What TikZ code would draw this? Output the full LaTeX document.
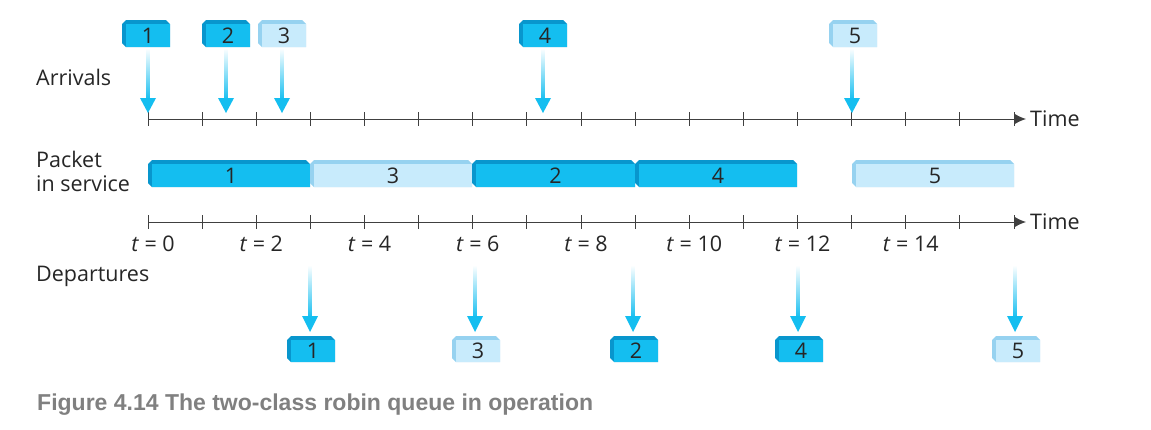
\documentclass[tikz,border=0pt]{standalone}
\usepackage{fontspec}
\setmainfont{Open Sans}
\newfontfamily\capfont{Liberation Sans}
\usetikzlibrary{arrows.meta}
\begin{document}
\begin{tikzpicture}[x=1pt,y=-1pt,
  lbl/.style={font=\fontsize{21.5}{24}\selectfont, text=black!85, inner sep=0},
  axis/.style={draw=black!75, line width=1pt}]
\definecolor{dk}{RGB}{20,190,240}
\definecolor{lt}{RGB}{200,235,252}
\definecolor{dkb}{RGB}{8,150,205}
\definecolor{ltb}{RGB}{150,210,240}
\path[use as bounding box] (0,0) rectangle (1151,429);
\newcommand{\bx}[6]{% x1 y1 x2 y2 style(dk/lt) label
  \fill[#5b] (#1,#2+4) -- (#1+4,#2) -- (#3-4,#2) -- (#3,#2+4) -- (#3,#4) -- (#1+4,#4) -- (#1,#4-4) -- cycle;
  \fill[#5] (#1+4,#2+4) rectangle (#3,#4);
  \node[lbl] at ({(#1+#3)/2+2},{(#2+#4)/2+2}) {#6};}
% axes
\foreach \yy/\nm in {119/a,222/b}{
  \draw[axis,-{Latex[length=11pt,width=10pt]}] (148,\yy) -- (1026,\yy) coordinate (end\nm);
  \foreach \i in {0,...,16} \draw[axis] ({148+54.125*\i},\yy-7) -- ({148+54.125*\i},\yy+7);
  \node[lbl,anchor=west] at (1030,\yy) {Time};
}
\foreach \t in {0,2,...,14}
  \node[lbl] at ({153+54.125*\t},244) {\textit{t} = \t};
\node[lbl,anchor=west] at (36,77) {Arrivals};
\node[lbl,anchor=west,align=left] at (36,171) {Packet\\in service};
\node[lbl,anchor=west] at (36,276) {Departures};
% arrivals
\foreach \x/\bxl/\c/\n in {148/122/dk/1, 226/202/dk/2, 282/258/lt/3, 543/519/dk/4, 852/829/lt/5}{
  \shade[top color=white, bottom color=dk] (\x-1.5,48) rectangle (\x+1.5,100);
  \fill[dk] (\x-8,98) -- (\x+8,98) -- (\x,113) -- cycle;
  \bx{\bxl}{20}{\bxl+48}{47}{\c}{\n}
}
% service
\bx{148}{160}{310}{187}{dk}{1}
\bx{310}{160}{472}{187}{lt}{3}
\bx{472}{160}{635}{187}{dk}{2}
\bx{635}{160}{797}{187}{dk}{4}
\bx{852}{160}{1014}{187}{lt}{5}
% departures
\foreach \x/\c/\n in {310/dk/1, 475/lt/3, 633/dk/2, 798/dk/4, 1015/lt/5}{
  \shade[top color=white, bottom color=dk] (\x-1.5,265) rectangle (\x+1.5,318);
  \fill[dk] (\x-8,316) -- (\x+8,316) -- (\x,332) -- cycle;
  \bx{\x-23}{336}{\x+25}{362}{\c}{\n}
}
\node[anchor=west,inner sep=0,text=black!50,font=\capfont\bfseries\fontsize{23}{26}\selectfont] at (37,405) {Figure 4.14 The two-class robin queue in operation};
\end{tikzpicture}
\end{document}
